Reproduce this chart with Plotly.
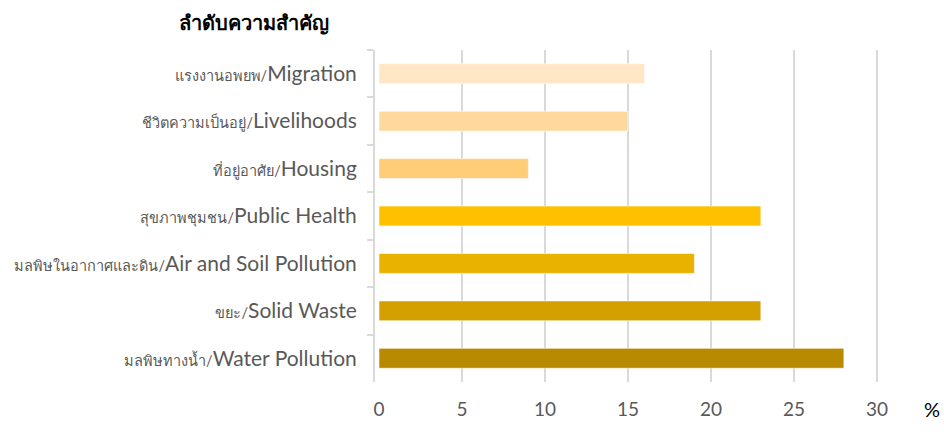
import plotly.graph_objects as go

thai_labels = ["แรงงานอพยพ/", "ชีวิตความเป็นอยู่/", "ที่อยู่อาศัย/", "สุขภาพชุมชน/",
               "มลพิษในอากาศและดิน/", "ขยะ/", "มลพิษทางน้ำ/"]
eng_labels = ["Migration", "Livelihoods", "Housing", "Public Health",
              "Air and Soil Pollution", "Solid Waste", "Water Pollution"]
values = [16, 15, 9, 23, 19, 23, 28]
bar_colors = ["#FFE6C4", "#FFD89E", "#FFCC77", "#FFC000", "#EAB200", "#D4A000", "#B88A00"]
x_ticks = [0, 5, 10, 15, 20, 25, 30]
title_text = "ลำดับความสำคัญ"
unit_text = "%"

categories = [f'<span style="font-size:14.5px">{t}</span>{e}' for t, e in zip(thai_labels, eng_labels)]

fig = go.Figure()
fig.add_trace(go.Bar(
    x=values, y=categories, orientation="h",
    marker=dict(color=bar_colors, line=dict(color="rgba(255,255,255,0.6)", width=1)),
    hoverinfo="x+y",
))
# invisible helper trace so the labelled overlay axis is drawn
fig.add_trace(go.Scatter(x=[x_ticks[0], x_ticks[-1]], y=[categories[0], categories[0]],
                         xaxis="x2", mode="markers", marker=dict(opacity=0),
                         hoverinfo="skip", showlegend=False))

rng = [-0.24, 31.5]
fig.update_layout(
    width=944, height=432,
    margin=dict(l=375, r=42, t=50, b=40),
    paper_bgcolor="white", plot_bgcolor="white",
    showlegend=False,
    bargap=0.58,
    font=dict(family="Lato, 'Noto Sans', sans-serif", color="#595959"),
    xaxis=dict(range=rng, tickvals=x_ticks[1:], showticklabels=False,
               showgrid=True, gridcolor="#D9D9D9", gridwidth=2,
               zeroline=False, showline=False, ticks=""),
    xaxis2=dict(range=rng, overlaying="x", side="bottom", tickvals=x_ticks,
                showgrid=False, zeroline=False, showline=False, ticks="",
                tickfont=dict(size=19, color="#595959"), ticklabelstandoff=14),
    yaxis=dict(autorange="reversed", showgrid=False, zeroline=False,
               showline=True, linecolor="#D9D9D9", linewidth=2,
               ticks="outside", tickson="boundaries", ticklen=6,
               tickcolor="#D9D9D9", tickwidth=2,
               tickfont=dict(size=21, color="#595959"), ticklabelstandoff=12),
    annotations=[
        dict(text=f"<b>{title_text}</b>", xref="paper", yref="paper",
             x=-0.23, y=1.082, xanchor="center", yanchor="middle",
             showarrow=False, font=dict(size=20, color="black")),
        dict(text=unit_text, xref="paper", yref="paper",
             x=1.057, y=-0.082, xanchor="center", yanchor="middle",
             showarrow=False, font=dict(size=20, color="black")),
    ],
)

fig.write_html(
    "out.html",
    config={"displayModeBar": False},
    post_script="document.body.style.margin='0';document.body.style.overflow='hidden';",
)
